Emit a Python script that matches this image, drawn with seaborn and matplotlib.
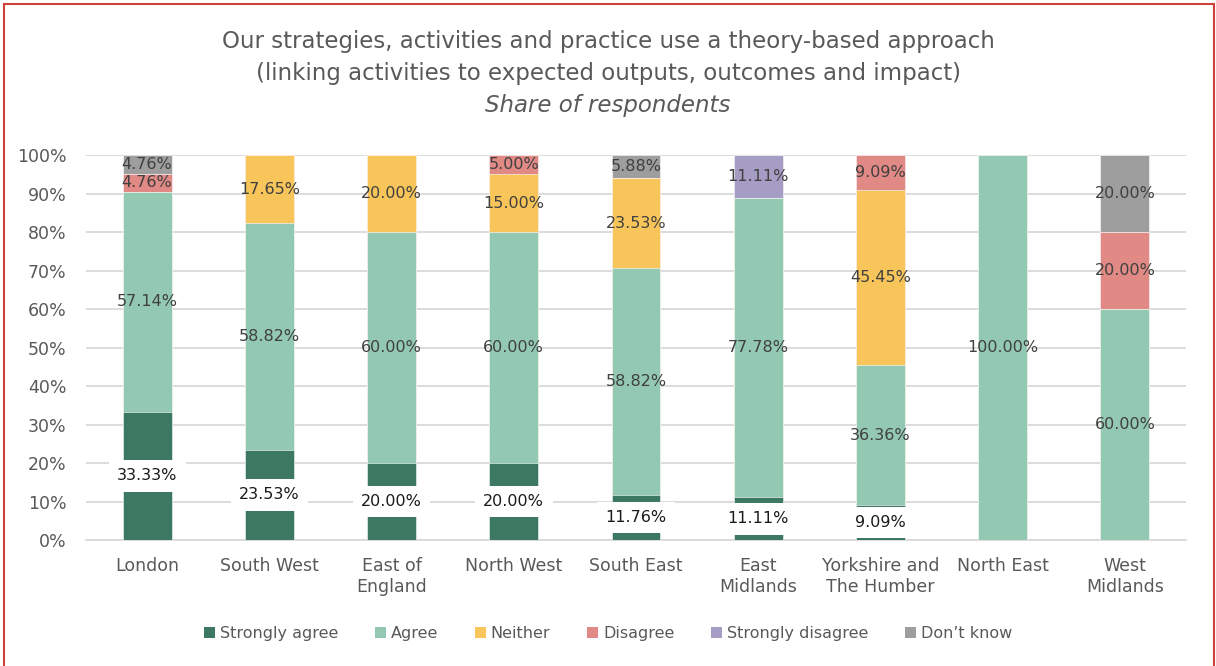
import numpy as np
import pandas as pd
import matplotlib
matplotlib.use('Agg')
import matplotlib.pyplot as plt
import seaborn as sns
from matplotlib.patches import Rectangle, Patch

regions = ['London', 'South West', 'East of\nEngland', 'North West', 'South East',
           'East\nMidlands', 'Yorkshire and\nThe Humber', 'North East', 'West\nMidlands']
categories = ['Strongly agree', 'Agree', 'Neither', 'Disagree', 'Strongly disagree', "Don\u2019t know"]

strongly_agree = [33.33, 23.53, 20.00, 20.00, 11.76, 11.11, 9.09, 0.00, 0.00]
agree = [57.14, 58.82, 60.00, 60.00, 58.82, 77.78, 36.36, 100.00, 60.00]
neither = [0.00, 17.65, 20.00, 15.00, 23.53, 0.00, 45.45, 0.00, 0.00]
disagree = [4.76, 0.00, 0.00, 5.00, 0.00, 0.00, 9.09, 0.00, 20.00]
strongly_disagree = [0.00, 0.00, 0.00, 0.00, 0.00, 11.11, 0.00, 0.00, 0.00]
dont_know = [4.76, 0.00, 0.00, 0.00, 5.88, 0.00, 0.00, 0.00, 20.00]

colors = ['#3c7862', '#93c9b3', '#f8c55a', '#e08985', '#a69dc4', '#9e9e9e']

series = [strongly_agree, agree, neither, disagree, strongly_disagree, dont_know]
vals = np.array(series)
cum = np.cumsum(vals, axis=0)

sns.set_theme(style='white')
plt.rcParams['font.family'] = ['DejaVu Sans']
text_col = '#595959'

fig = plt.figure(figsize=(12.16, 6.66), dpi=100)
ax = fig.add_axes([86 / 1216, 0.189, 1100 / 1216, 0.578])

# stacked bars: draw cumulative totals from the top segment down
for i in range(len(categories) - 1, -1, -1):
    df = pd.DataFrame({'region': regions, 'value': cum[i]})
    sns.barplot(data=df, x='region', y='value', color=colors[i], width=0.4,
                saturation=1, ax=ax, zorder=3, edgecolor='white', linewidth=0.4)

# segment labels
for i, cat in enumerate(categories):
    for j in range(len(regions)):
        v = vals[i, j]
        if v <= 0:
            continue
        y = cum[i, j] - v / 2
        if i == 0:
            ax.text(j, y, f'{v:.2f}%', ha='center', va='center', fontsize=11.5,
                    color='#1a1a1a', zorder=5,
                    bbox=dict(facecolor='white', edgecolor='none', pad=6))
        else:
            ax.text(j, y, f'{v:.2f}%', ha='center', va='center', fontsize=11.5,
                    color='#404040', zorder=5)

ax.set_ylim(0, 100)
ax.set_xlim(-0.5, len(regions) - 0.5)
ax.set_yticks(np.arange(0, 101, 10))
ax.set_yticklabels([f'{t}%' for t in range(0, 101, 10)], color=text_col, fontsize=12.5)
ax.tick_params(axis='x', colors=text_col, labelsize=12.5, length=0, pad=12)
ax.tick_params(axis='y', length=0, pad=14)
ax.set_xlabel('')
ax.set_ylabel('')
ax.grid(axis='y', color='#d9d9d9', linewidth=1.3, zorder=0)
ax.set_axisbelow(True)
for s in ['top', 'right', 'left']:
    ax.spines[s].set_visible(False)
ax.spines['bottom'].set_color('#d9d9d9')
ax.spines['bottom'].set_linewidth(1.3)
for lab in ax.get_xticklabels():
    lab.set_color(text_col)

# title
fig.text(0.5, 0.937, 'Our strategies, activities and practice use a theory-based approach',
         ha='center', va='center', fontsize=16.5, color=text_col)
fig.text(0.5, 0.889, '(linking activities to expected outputs, outcomes and impact)',
         ha='center', va='center', fontsize=16.5, color=text_col)
fig.text(0.5, 0.841, 'Share of respondents', ha='center', va='center', fontsize=16.5,
         color=text_col, style='italic')

handles = [Patch(facecolor=c, edgecolor='none') for c in colors]
fig.legend(handles, categories, loc='center', bbox_to_anchor=(0.5, 0.049), ncol=6,
           frameon=False, fontsize=11.5, handlelength=0.7, handleheight=0.7,
           handletextpad=0.3, columnspacing=2.3, labelcolor=text_col)

# outer red frame
fig.patches.append(Rectangle((4 / 1216, -0.01), 1210 / 1216, 1 - 4 / 666 + 0.01,
                             transform=fig.transFigure, fill=False,
                             edgecolor='#d0403c', linewidth=1.5))

fig.savefig('out.png', dpi=100)
